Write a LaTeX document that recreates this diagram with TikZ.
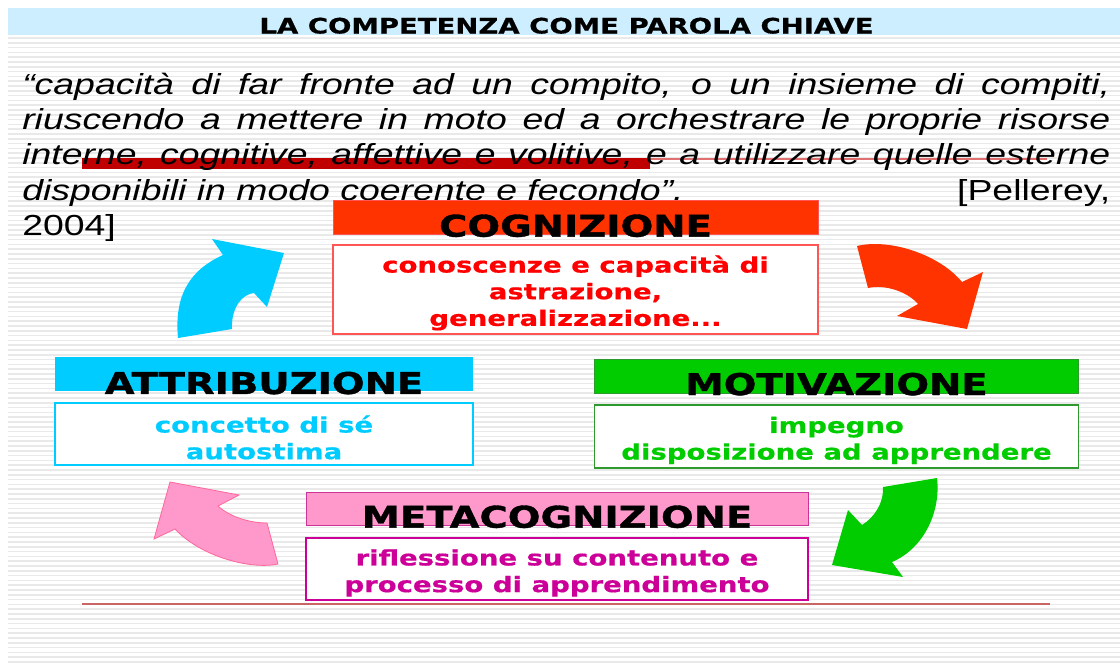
\documentclass[tikz,border=0pt]{standalone}
\usepackage{fontspec}
\usetikzlibrary{positioning}
\setmainfont{Liberation Sans}[FakeStretch=1.29]
\newfontfamily\vfont{DejaVu Sans}[FakeStretch=1.29,FakeBold=0.6]
\newfontfamily\hfont{DejaVu Sans}[FakeStretch=1.29,FakeBold=1.2]
\newcommand\boxlift{\rule{0pt}{18pt}}
\definecolor{titleblue}{HTML}{CCEEFF}
\definecolor{markred}{HTML}{C00000}
\definecolor{strikered}{HTML}{E07070}
\definecolor{cogred}{HTML}{FF3300}
\definecolor{cogtext}{HTML}{FF0000}
\definecolor{cogline}{HTML}{FF5555}
\definecolor{attcyan}{HTML}{00CCFF}
\definecolor{motgreen}{HTML}{00CC00}
\definecolor{motline}{HTML}{2E9A2E}
\definecolor{metapink}{HTML}{FF99CC}
\definecolor{metatext}{HTML}{CC0099}
\definecolor{metaline}{HTML}{CC3399}
\definecolor{pinkline}{HTML}{FF6699}
\tolerance=10000
\tikzset{
  stripe/.style={gray!17, line width=1.1pt},
  titletext/.style={anchor=base, inner sep=0pt, font=\vfont\bfseries\fontsize{16}{18}\selectfont},
  quote/.style={text width=816pt, align=justify, inner sep=0pt,
    font=\itshape\fontsize{21.75}{26.6}\selectfont},
  headbar/.style={minimum height=25.5pt, inner sep=0pt, outer sep=0pt, line width=0.6pt},
  headtext/.style={anchor=base, inner sep=0pt, font=\hfont\bfseries\fontsize{22.4}{24}\selectfont},
  notebox/.style={fill=white, line width=0.9pt, inner sep=0pt, outer sep=0pt, align=center,
    font=\vfont\bfseries\fontsize{16}{20}\selectfont},
}
\begin{document}
\begin{tikzpicture}[x=0.75pt,y=-0.75pt]
\useasboundingbox (0,0) rectangle (1120,664);
\fill[white] (0,0) rectangle (1120,664);
\foreach \y in {38,42.8,...,664} % edit here for the stripes
\draw[stripe] (8,\y) -- (1120,\y);
\fill[titleblue] (8,8) rectangle (1120,35);
\node[titletext] (title) at (566.5,33.5) {LA COMPETENZA COME PAROLA CHIAVE};
% quotation
\fill[markred] (82,158) rectangle (650,169);
\draw[strikered, line width=1.4pt] (650,159) -- (1047,159);
\node[quote, anchor=base west] (quote) at (22,94)
 {“capacità di far fronte ad un compito, o un insieme di compiti,\linebreak
  riuscendo a mettere in moto ed a orchestrare le proprie risorse\linebreak
  interne, cognitive, affettive e volitive, e a utilizzare quelle esterne\linebreak
  disponibili in modo coerente e fecondo”.\hfill{\upshape[Pellerey,}\linebreak
  {\upshape 2004]}};
% the four boxes
\node[headbar, minimum width=363.75pt, fill=cogred, draw=cogline] (cogbar) at (575.5,217) {};
\node[headtext] (coghead) at ([yshift=-2pt]cogbar.south) {COGNIZIONE};
\node[notebox, draw=cogline, text=cogtext, minimum width=363.75pt, minimum height=66.75pt,
  below=8.25pt of cogbar] (cogbox) {\boxlift conoscenze e capacità di\\astrazione,\\generalizzazione...};
\node[headbar, minimum width=313.5pt, fill=attcyan] (attbar) at (264,374) {};
\node[headtext] (atthead) at ([yshift=-2.2pt]attbar.south) {ATTRIBUZIONE};
\node[notebox, draw=attcyan, text=attcyan, minimum width=313.5pt, minimum height=46.5pt,
  below=9pt of attbar] (attbox) {\boxlift concetto di sé\\autostima};
\node[headbar, minimum width=363pt, fill=motgreen, draw=motline] (motbar) at (836.5,376) {};
\node[headtext] (mothead) at ([yshift=-1.5pt]motbar.south) {MOTIVAZIONE};
\node[notebox, draw=motline, text=motgreen, minimum width=363pt, minimum height=47.25pt,
  below=9pt of motbar] (motbox) {\boxlift impegno\\disposizione ad apprendere};
\node[headbar, minimum width=376.5pt, minimum height=24.75pt, fill=metapink, draw=metaline] (metabar) at (557,508.5) {};
\node[headtext] (metahead) at ([yshift=-2pt]metabar.south) {METACOGNIZIONE};
\node[notebox, draw=metatext, text=metatext, minimum width=376.5pt, minimum height=46.5pt,
  below=9.75pt of metabar] (metabox) {\boxlift riflessione su contenuto e\\processo di apprendimento};
\draw[strikered!90!black, line width=1.1pt] (82,604) -- (1050,604);
% curved arrows
\fill[attcyan] (178,338) .. controls (174,295) and (190,270) .. (223,255) -- (212,239) -- (284,253)
  -- (267,307) -- (254,293) .. controls (242,294) and (231,308) .. (232,329) -- cycle;
\fill[cogred] (857,246) .. controls (890,238) and (940,255) .. (962,282) -- (983,272) -- (967,329)
  -- (897,316) -- (918,304) .. controls (908,292) and (885,284) .. (868,288) -- cycle;
\fill[motgreen] (937,478) .. controls (941,510) and (925,548) .. (892,562) -- (903,577) -- (832,565)
  -- (848,510) -- (862,525) .. controls (875,517) and (884,502) .. (883,487) -- cycle;
\filldraw[fill=metapink, draw=pinkline, line width=0.6pt] (278,564) .. controls (250,570) and (200,556) .. (175,529)
  -- (154,539) -- (170,482) -- (239,495) -- (218,506) .. controls (230,517) and (250,523) .. (267,523) -- cycle;
\end{tikzpicture}
\end{document}
